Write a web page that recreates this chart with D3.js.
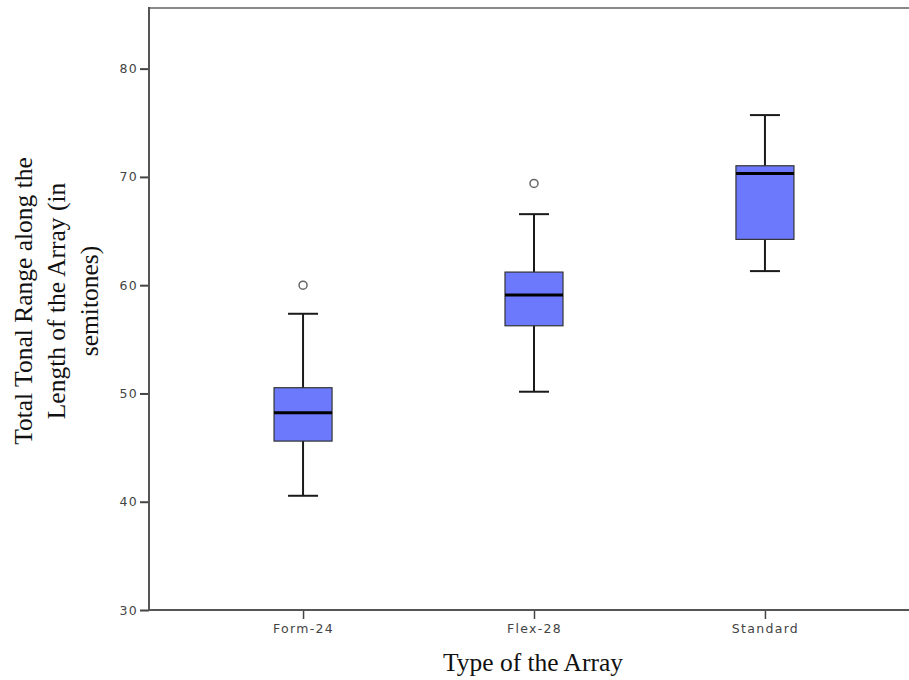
<!DOCTYPE html>
<html>
<head>
<meta charset="utf-8">
<script src="https://cdn.jsdelivr.net/npm/d3@7"></script>
<style>
  body { margin: 0; background: #fff; }
  .tick text { font-family: "DejaVu Sans", sans-serif; font-size: 12.5px; fill: #444; letter-spacing: 1.3px; }
  .axisTitle { font-family: "Liberation Serif", "Times New Roman", serif; font-size: 25.5px; fill: #111; }
</style>
</head>
<body>
<div class="chart"></div>
<script>
// box plot stats
const categories = ["Form-24", "Flex-28", "Standard"];
const whiskerLow = [40.55, 50.16, 61.30];
const q1 = [45.60, 56.25, 64.23];
const median = [48.22, 59.09, 70.32];
const q3 = [50.53, 61.21, 71.03];
const whiskerHigh = [57.36, 66.56, 75.71];
const outliers = [[60.0], [69.4], []];
const yTicks = [30, 40, 50, 60, 70, 80];

const data = categories.map((c, i) => ({
    cat: c, lo: whiskerLow[i], q1: q1[i], med: median[i], q3: q3[i], hi: whiskerHigh[i], out: outliers[i]
}));

const W = 909, H = 680;
const margin = ({top: 8, right: -10, bottom: 70, left: 149});

const svg = d3.select(".chart").append("svg")
    .attr("width", W)
    .attr("height", H);

const xScale = d3.scalePoint()
    .domain(categories)
    .range([margin.left, W - margin.right])
    .padding(0.667);

const yScale = d3.scaleLinear()
    .domain([30, 85.6])
    .range([H - margin.bottom, margin.top]);

// top frame line
svg.append("line")
    .attr("x1", margin.left).attr("x2", W)
    .attr("y1", margin.top).attr("y2", margin.top)
    .attr("stroke", "#888").attr("stroke-width", 2);

const boxW = 58, capW = 30;

const g = svg.selectAll(".box")
    .data(data)
    .enter()
    .append("g")
    .attr("class", "box");

// whiskers
g.append("line")
    .attr("x1", d => xScale(d.cat)).attr("x2", d => xScale(d.cat))
    .attr("y1", d => yScale(d.lo)).attr("y2", d => yScale(d.hi))
    .attr("stroke", "#1a1a1a").attr("stroke-width", 2);
g.append("line")
    .attr("x1", d => xScale(d.cat) - capW / 2).attr("x2", d => xScale(d.cat) + capW / 2)
    .attr("y1", d => yScale(d.lo)).attr("y2", d => yScale(d.lo))
    .attr("stroke", "#1a1a1a").attr("stroke-width", 2);
g.append("line")
    .attr("x1", d => xScale(d.cat) - capW / 2).attr("x2", d => xScale(d.cat) + capW / 2)
    .attr("y1", d => yScale(d.hi)).attr("y2", d => yScale(d.hi))
    .attr("stroke", "#1a1a1a").attr("stroke-width", 2);

// box
g.append("rect")
    .attr("x", d => xScale(d.cat) - boxW / 2)
    .attr("y", d => yScale(d.q3))
    .attr("width", boxW)
    .attr("height", d => yScale(d.q1) - yScale(d.q3))
    .attr("fill", "#6c79fd")
    .attr("stroke", "#333")
    .attr("stroke-width", 1.2);

// median
g.append("line")
    .attr("x1", d => xScale(d.cat) - boxW / 2).attr("x2", d => xScale(d.cat) + boxW / 2)
    .attr("y1", d => yScale(d.med)).attr("y2", d => yScale(d.med))
    .attr("stroke", "#000").attr("stroke-width", 3);

// outliers
g.selectAll("circle")
    .data(d => d.out.map(v => ({cat: d.cat, v: v})))
    .enter()
    .append("circle")
    .attr("cx", d => xScale(d.cat))
    .attr("cy", d => yScale(d.v))
    .attr("r", 4)
    .attr("fill", "#fff")
    .attr("stroke", "#666")
    .attr("stroke-width", 1.5);

// axes
const yAxis = d3.axisLeft(yScale).tickValues(yTicks).tickSize(9).tickPadding(2).tickFormat(d3.format("d"));
const yG = svg.append("g")
    .attr("transform", "translate(" + margin.left + ",0)")
    .call(yAxis);
yG.select(".domain").remove();
yG.selectAll(".tick line").attr("stroke", "#444").attr("stroke-width", 2);
svg.append("line")
    .attr("x1", margin.left).attr("x2", margin.left)
    .attr("y1", margin.top - 1).attr("y2", H - margin.bottom + 1)
    .attr("stroke", "#555").attr("stroke-width", 2);

const xAxis = d3.axisBottom(xScale).tickSize(9).tickPadding(5);
const xG = svg.append("g")
    .attr("transform", "translate(0," + (H - margin.bottom) + ")")
    .call(xAxis);
xG.select(".domain").remove();
xG.selectAll(".tick line").attr("stroke", "#444").attr("stroke-width", 1.5);
svg.append("line")
    .attr("x1", margin.left).attr("x2", W)
    .attr("y1", H - margin.bottom).attr("y2", H - margin.bottom)
    .attr("stroke", "#555").attr("stroke-width", 2);

// axis titles
svg.append("text")
    .attr("class", "axisTitle")
    .attr("text-anchor", "middle")
    .attr("x", 533)
    .attr("y", 671)
    .text("Type of the Array");

const yTitle = ["Total Tonal Range along the", "Length of the Array (in", "semitones)"];
svg.append("g")
    .attr("transform", "translate(0,301) rotate(-90)")
    .selectAll("text")
    .data(yTitle)
    .enter()
    .append("text")
    .attr("class", "axisTitle")
    .attr("text-anchor", "middle")
    .attr("x", 0)
    .attr("y", (d, i) => 32 + i * 33)
    .text(d => d);
</script>
</body>
</html>
